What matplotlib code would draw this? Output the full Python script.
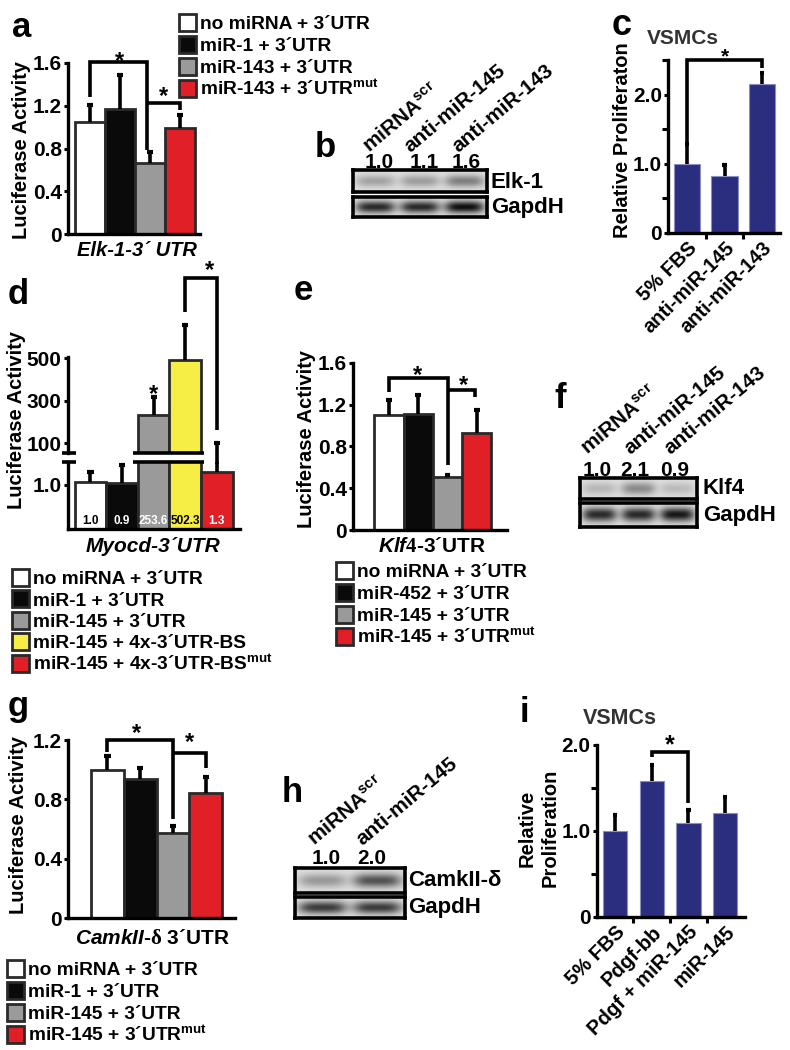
import numpy as np
import matplotlib
matplotlib.use('Agg')
import matplotlib.pyplot as plt
from matplotlib.patches import Rectangle

plt.rcParams['font.family'] = ['Liberation Sans', 'DejaVu Sans']
plt.rcParams['font.weight'] = 'bold'
plt.rcParams['mathtext.fontset'] = 'custom'
plt.rcParams['mathtext.bf'] = 'Liberation Sans:bold'
plt.rcParams['mathtext.it'] = 'Liberation Sans:italic:bold'
plt.rcParams['mathtext.rm'] = 'Liberation Serif'

# ---- data ----
a_labels = ['no miRNA + 3´UTR', 'miR-1 + 3´UTR', 'miR-143 + 3´UTR', 'miR-143 + 3´UTR$^{\\mathbf{mut}}$']
a_vals = [1.05, 1.17, 0.66, 0.99]
a_errs = [1.21, 1.49, 0.77, 1.11]

b_lanes = ['miRNA$^{\\mathbf{scr}}$', 'anti-miR-145', 'anti-miR-143']
b_ratio = [1.0, 1.1, 1.6]
b_gapdh = [1.0, 1.0, 1.15]

c_groups = ['5% FBS', 'anti-miR-145', 'anti-miR-143']
c_vals = [1.0, 0.83, 2.15]
c_errs = [1.28, 0.98, 2.31]

d_labels = ['no miRNA + 3´UTR', 'miR-1 + 3´UTR', 'miR-145 + 3´UTR',
            'miR-145 + 4x-3´UTR-BS', 'miR-145 + 4x-3´UTR-BS$^{\\mathbf{mut}}$']
d_vals = [1.07, 1.04, 232, 490, 1.3]
d_text = ['1.0', '0.9', '253.6', '502.3', '1.3']
d_errs = [1.3, 1.45, 316, 655, 100]

e_labels = ['no miRNA + 3´UTR', 'miR-452 + 3´UTR', 'miR-145 + 3´UTR', 'miR-145 + 3´UTR$^{\\mathbf{mut}}$']
e_vals = [1.10, 1.11, 0.51, 0.93]
e_errs = [1.25, 1.29, 0.53, 1.15]

f_lanes = ['miRNA$^{\\mathbf{scr}}$', 'anti-miR-145', 'anti-miR-143']
f_ratio = [1.0, 2.1, 0.9]
f_gapdh = [1.0, 1.0, 1.1]

g_labels = ['no miRNA + 3´UTR', 'miR-1 + 3´UTR', 'miR-145 + 3´UTR', 'miR-145 + 3´UTR$^{\\mathbf{mut}}$']
g_vals = [1.0, 0.94, 0.57, 0.84]
g_errs = [1.09, 1.01, 0.62, 0.95]

h_lanes = ['miRNA$^{\\mathbf{scr}}$', 'anti-miR-145']
h_ratio = [1.0, 2.0]
h_gapdh = [1.0, 1.0]

i_groups = ['5% FBS', 'Pdgf-bb', 'Pdgf + miR-145', 'miR-145']
i_vals = [1.0, 1.58, 1.09, 1.21]
i_errs = [1.19, 1.77, 1.24, 1.40]

WHITE, BLACK, GREY, RED, YELLOW = '#ffffff', '#0a0a0a', '#9a9a9a', '#e01f26', '#f7ee45'
NAVY = '#2b2e7e'
EDGE = '#2a2a2a'
lucif4 = [WHITE, BLACK, GREY, RED]
lucif5 = [WHITE, BLACK, GREY, YELLOW, RED]

W, H = 790, 1050
fig = plt.figure(figsize=(W / 100, H / 100), dpi=100)

ov = fig.add_axes([0, 0, 1, 1])
ov.set_xlim(0, W)
ov.set_ylim(H, 0)
ov.axis('off')
ov.set_zorder(10)


def px_axes(x0, y0, x1, y1):
    ax = fig.add_axes([x0 / W, 1 - y1 / H, (x1 - x0) / W, (y1 - y0) / H])
    ax.patch.set_alpha(0)
    return ax


def style(ax, ticks, labels, bottom=True):
    ax.spines['top'].set_visible(False)
    ax.spines['right'].set_visible(False)
    ax.spines['left'].set_linewidth(2.4)
    ax.spines['bottom'].set_linewidth(2.4)
    ax.spines['bottom'].set_visible(bottom)
    ax.set_yticks(ticks, labels)
    ax.tick_params(axis='y', width=2.2, length=3, labelsize=15, pad=1.5)
    ax.set_xticks([])


def errbars(ax, xs, vals, tops, cap=0.1, lw=2.6):
    xs = np.asarray(xs, dtype=float)
    ax.vlines(xs, vals, tops, color='k', lw=lw, clip_on=False)
    ax.hlines(tops, xs - cap, xs + cap, color='k', lw=lw + 0.4, clip_on=False)


def bracket(ax, x1, y1, x2, y2, top, lw=2.6):
    ax.plot([x1, x1, x2, x2], [y1, top, top, y2], color='k', lw=lw, clip_on=False,
            solid_joinstyle='miter', solid_capstyle='butt')


def star(ax, x, y, size=17):
    ax.annotate('*', (x, y), xytext=(0, -5), textcoords='offset points',
                ha='center', va='center', fontsize=size, annotation_clip=False)


def legend(x, y0, dy, labels, colors, size=13.8):
    for k, (lab, col) in enumerate(zip(labels, colors)):
        y = y0 + k * dy
        ov.add_patch(Rectangle((x, y - 8.5), 17, 17, facecolor=col, edgecolor=EDGE, lw=2))
        ov.text(x + 21, y + 7, lab, fontsize=size, ha='left', va='baseline')


def blot(x0, y0, x1, y1, levels, strength, band_h=0.22, bg=0.88):
    ax = px_axes(x0, y0, x1, y1)
    nx, ny = int(x1 - x0) * 2, int(y1 - y0) * 2
    xx = np.linspace(0, 1, nx)
    yy = np.linspace(0, 1, ny)
    n = len(levels)
    img = np.full((ny, nx), bg)
    vert = np.exp(-((yy - 0.5) / band_h) ** 2 / 2)
    for k, lev in enumerate(levels):
        c = (k + 0.5) / n
        horiz = np.exp(-(np.abs(xx - c) / (0.44 / n)) ** 4)
        img = img - strength * lev * np.outer(vert, horiz)
    ax.imshow(np.clip(img, 0, 1), cmap='gray', vmin=0, vmax=1, aspect='auto',
              extent=(0, 1, 0, 1), interpolation='bilinear')
    ax.set_xticks([])
    ax.set_yticks([])
    for s in ax.spines.values():
        s.set_linewidth(2.6)
    return ax


def panel_letter(x, y, s, size=25):
    ov.text(x, y, s, fontsize=size, ha='center', va='baseline')


# ---- a ----
ax = px_axes(68, 63, 200, 234)
xa = np.arange(4)
ax.bar(xa, a_vals, width=1, color=lucif4, edgecolor=EDGE, lw=2)
errbars(ax, xa, a_vals, a_errs)
ax.set_xlim(-0.72, 3.68)
ax.set_ylim(0, 1.6)
style(ax, [0, 0.4, 0.8, 1.2, 1.6], ['0', '0.4', '0.8', '1.2', '1.6'])
bracket(ax, 0, 1.28, 1.9, 0.79, 1.61)
bracket(ax, 1.9, 1.23, 3.0, 1.16, 1.23)
star(ax, 1.0, 1.68)
star(ax, 2.45, 1.35)
ov.text(22, 150, 'Luciferase Activity', rotation=90, fontsize=14.5, ha='center', va='center')
ov.text(137, 251, 'Elk-1-3´ UTR', fontsize=14.5, fontstyle='italic', ha='center', va='center')
legend(179, 22, 22, a_labels, lucif4)
panel_letter(22, 37, 'a')

# ---- b ----
panel_letter(325, 157, 'b')
blot(353, 170, 487, 192, b_ratio, 0.24, band_h=0.2)
blot(353, 197, 487, 217, b_gapdh, 0.72, band_h=0.22)
for x, lab in zip([370, 410, 458], b_lanes):
    ov.text(x, 153, lab, rotation=40, rotation_mode='anchor', ha='left', va='baseline', fontsize=15)
for x, r in zip([379, 424, 466], b_ratio):
    ov.text(x, 163, f'{r:.1f}', ha='center', va='center', fontsize=15)
ov.text(491, 183, 'Elk-1', fontsize=16, ha='left', va='center')
ov.text(491, 207, 'GapdH', fontsize=16, ha='left', va='center')

# ---- c ----
ax = px_axes(668, 60, 780, 233)
xc = np.arange(3)
ax.bar(xc, c_vals, width=0.7, color=NAVY, edgecolor='#8c8fc0', lw=0.8)
errbars(ax, xc, c_vals, c_errs, cap=0.06)
ax.set_xlim(-0.51, 2.48)
ax.set_ylim(0, 2.5)
style(ax, [0, 1.0, 2.0], ['0', '1.0', '2.0'])
ax.set_yticks([0.5, 1.5, 2.5], minor=True)
ax.tick_params(axis='y', which='minor', width=2.2, length=4)
ax.set_xticks(xc, c_groups, rotation=45, ha='right', rotation_mode='anchor', fontsize=14.5)
ax.tick_params(axis='x', length=0, pad=4)
ax.set_xticks([0.5, 1.5], minor=True)
ax.tick_params(axis='x', which='minor', width=2.2, length=4)
bracket(ax, 0, 1.3, 2, 2.38, 2.5)
star(ax, 1.02, 2.64, size=15)
ov.text(683, 38, 'VSMCs', fontsize=15, ha='center', va='center', color='#333333')
ov.text(622, 140, 'Relative Proliferaton', rotation=90, fontsize=14.5, ha='center', va='center')
panel_letter(622, 35, 'c', size=26)

# ---- d ----
xd = np.arange(5)
lo = px_axes(68, 462, 240, 529)
hi = px_axes(68, 357, 240, 453)
lo.bar(xd, d_vals, width=1, color=lucif5, edgecolor=EDGE, lw=2)
hi.bar(xd[2:4], d_vals[2:4], width=1, color=lucif5[2:4], edgecolor=EDGE, lw=2)
for a_ in (lo, hi):
    a_.set_xlim(-0.71, 4.73)
lo.set_ylim(0, 1.52)
hi.set_ylim(53, 505)
style(lo, [1.0], ['1.0'])
style(hi, [100, 300, 500], ['100', '300', '500'], bottom=False)
errbars(lo, xd[:2], d_vals[:2], d_errs[:2])
lo.vlines(4, d_vals[4], 1.52, color='k', lw=2.6)
errbars(hi, xd[2:4], d_vals[2:4], d_errs[2:4])
hi.vlines(4, 0, d_errs[4], color='k', lw=2.6, clip_on=False)
hi.hlines(d_errs[4], 3.9, 4.1, color='k', lw=3)
lo.hlines(1.52, 1.34, 3.59, color='k', lw=2.6, clip_on=False)
hi.hlines(53, 1.34, 3.59, color='k', lw=2.6, clip_on=False)
lo.hlines(1.52, -0.90, -0.46, color='k', lw=2.6, clip_on=False)
hi.hlines(53, -0.90, -0.46, color='k', lw=2.6, clip_on=False)
for k, (t, col) in enumerate(zip(d_text, ['k', 'w', 'w', 'k', 'w'])):
    lo.text(k, 0.18, t, color=col, fontsize=8.5, ha='center', va='center')
bracket(hi, 3, 716, 4, 161, 876)
star(hi, 3.75, 947)
star(hi, 2, 359)
ov.text(17, 420, 'Luciferase Activity', rotation=90, fontsize=14.5, ha='center', va='center')
ov.text(153, 547, 'Myocd-3´UTR', fontsize=15, fontstyle='italic', ha='center', va='center')
legend(12, 577, 21.5, d_labels, lucif5)
panel_letter(18, 304, 'd')

# ---- e ----
ax = px_axes(353, 363, 507, 530)
xe = np.arange(4)
ax.bar(xe, e_vals, width=1, color=lucif4, edgecolor=EDGE, lw=2)
errbars(ax, xe, e_vals, e_errs)
ax.set_xlim(-1.23, 4.03)
ax.set_ylim(0, 1.6)
style(ax, [0, 0.4, 0.8, 1.2, 1.6], ['0', '0.4', '0.8', '1.2', '1.6'])
bracket(ax, 0, 1.32, 2, 0.62, 1.46)
bracket(ax, 2, 1.34, 2.95, 1.27, 1.34)
star(ax, 0.99, 1.55)
star(ax, 2.53, 1.45)
ov.text(306, 439, 'Luciferase Activity', rotation=90, fontsize=14.5, ha='center', va='center')
ov.text(432, 547, '$\\mathit{Klf4}$-3´UTR', fontsize=15, ha='center', va='center')
legend(336, 570, 22, e_labels, lucif4)
panel_letter(303, 300, 'e')

# ---- f ----
panel_letter(560, 408, 'f')
blot(580, 478, 697, 499, f_ratio, 0.16, band_h=0.22)
blot(580, 503, 697, 527, f_gapdh, 0.72, band_h=0.2)
for x, lab in zip([588, 630, 670], f_lanes):
    ov.text(x, 455, lab, rotation=40, rotation_mode='anchor', ha='left', va='baseline', fontsize=15)
for x, r in zip([597, 635, 675], f_ratio):
    ov.text(x, 470, f'{r:.1f}', ha='center', va='center', fontsize=15)
ov.text(703, 489, 'Klf4', fontsize=16, ha='left', va='center')
ov.text(703, 516, 'GapdH', fontsize=16, ha='left', va='center')

# ---- g ----
ax = px_axes(68, 740, 235, 918)
xg = np.arange(4)
ax.bar(xg, g_vals, width=1, color=lucif4, edgecolor=EDGE, lw=2)
errbars(ax, xg, g_vals, g_errs)
ax.set_xlim(-1.2, 3.89)
ax.set_ylim(0, 1.2)
style(ax, [0, 0.4, 0.8, 1.2], ['0', '0.4', '0.8', '1.2'])
bracket(ax, 0, 1.12, 2, 0.67, 1.2)
bracket(ax, 2, 1.11, 3, 1.01, 1.11)
star(ax, 0.9, 1.29)
star(ax, 2.5, 1.23)
ov.text(19, 825, 'Luciferase Activity', rotation=90, fontsize=14.5, ha='center', va='center')
ov.text(152, 938, '$\\mathit{CamkII}$-$\\mathrm{\\delta}$ 3´UTR', fontsize=15, ha='center', va='center')
legend(7, 968, 22, g_labels, lucif4)
panel_letter(18, 716, 'g')

# ---- h ----
panel_letter(292, 802, 'h')
blot(295, 868, 405, 893, h_ratio, 0.28, band_h=0.2)
blot(295, 897, 405, 918, h_gapdh, 0.65, band_h=0.22)
for x, lab in zip([315, 362], h_lanes):
    ov.text(x, 846, lab, rotation=40, rotation_mode='anchor', ha='left', va='baseline', fontsize=15)
for x, r in zip([326, 372], h_ratio):
    ov.text(x, 858, f'{r:.1f}', ha='center', va='center', fontsize=15)
ov.text(408, 881, 'CamkII-δ', fontsize=16, ha='left', va='center')
ov.text(408, 907, 'GapdH', fontsize=16, ha='left', va='center')

# ---- i ----
ax = px_axes(597, 745, 745, 917)
xi = np.arange(4)
ax.bar(xi, i_vals, width=0.66, color=NAVY, edgecolor='#8c8fc0', lw=0.8)
errbars(ax, xi, i_vals, i_errs, cap=0.06)
ax.set_xlim(-0.49, 3.54)
ax.set_ylim(0, 2.0)
style(ax, [0, 1.0, 2.0], ['0', '1.0', '2.0'])
ax.set_yticks([0.5, 1.5], minor=True)
ax.tick_params(axis='y', which='minor', width=2.2, length=4)
ax.set_xticks(xi, i_groups, rotation=45, ha='right', rotation_mode='anchor', fontsize=14.5)
ax.tick_params(axis='x', length=0, pad=4)
ax.set_xticks([0.5, 1.5, 2.5], minor=True)
ax.tick_params(axis='x', which='minor', width=2.2, length=4)
bracket(ax, 1, 1.86, 2, 1.33, 1.92)
star(ax, 1.5, 2.08, size=18)
ov.text(620, 718, 'VSMCs', fontsize=15.5, ha='center', va='center', color='#333333')
ov.text(527, 828, 'Relative', rotation=90, fontsize=14.5, ha='center', va='center')
ov.text(550, 828, 'Proliferation', rotation=90, fontsize=14.5, ha='center', va='center')
panel_letter(524, 722, 'i')

fig.savefig('out.png', dpi=100)
